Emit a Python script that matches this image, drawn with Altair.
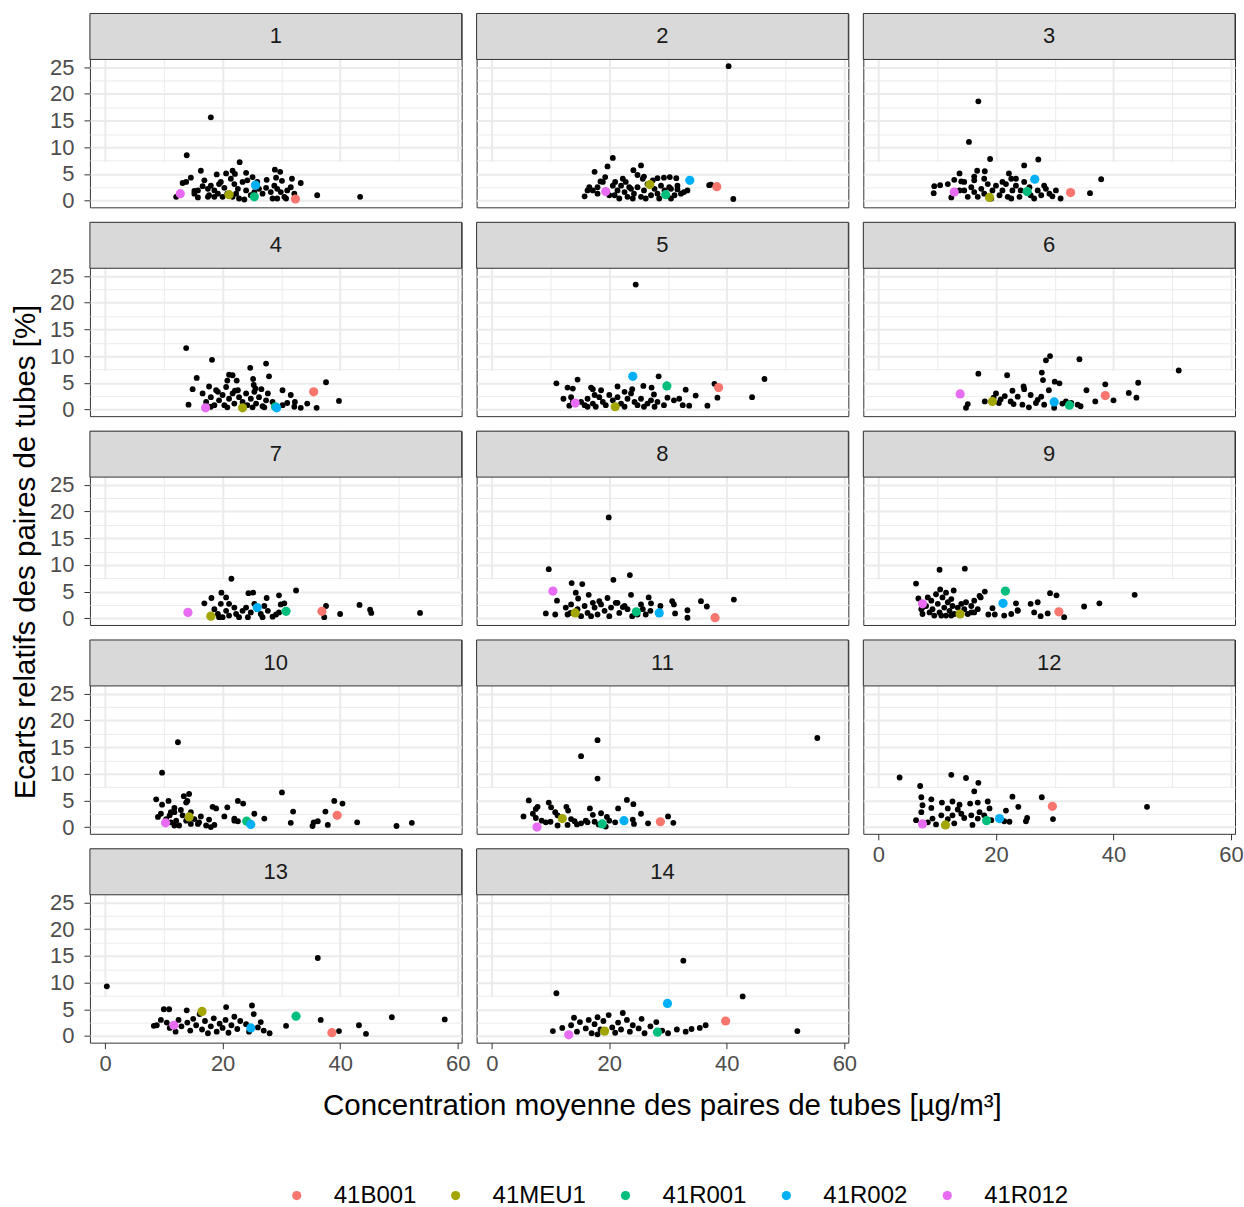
import altair as alt
import pandas as pd

# (concentration moyenne, écart relatif) of every tube pair, one list per campaign
CAMPAIGN_1 = [
    (18.0, 15.6), (13.9, 8.5), (22.9, 7.2), (16.3, 5.6), (28.9, 5.8), (29.8, 5.4), (19.0, 4.9), (20.6, 5.1),
    (21.7, 5.6), (22.1, 5.0), (24.0, 5.2), (14.6, 4.3), (13.8, 3.5), (13.2, 3.3), (25.1, 4.4), (27.5, 3.9),
    (29.1, 4.3), (30.1, 3.7), (31.8, 4.1), (33.3, 3.3), (36.1, 1.0), (43.4, 0.7), (15.2, 1.8), (15.8, 0.6),
    (16.6, 2.7), (17.5, 2.2), (17.7, 1.0), (18.6, 0.7), (19.4, 3.1), (19.7, 3.5), (20.3, 2.4), (20.0, 0.7),
    (22.0, 3.1), (22.6, 2.2), (23.4, 3.5), (24.0, 1.9), (24.2, 3.8), (22.8, 0.4), (23.7, 0.2), (26.2, 2.2),
    (26.8, 1.3), (27.4, 2.4), (28.2, 1.6), (28.8, 2.8), (29.3, 2.2), (29.9, 1.6), (30.5, 0.7), (31.0, 1.9),
    (31.6, 2.5), (29.3, 0.4), (30.8, 0.4), (32.2, 1.3), (18.6, 1.9), (17.5, 0.7), (15.8, 1.9), (15.2, 1.3),
    (12.1, 0.7), (16.9, 3.8), (21.4, 4.1), (20.8, 1.3), (24.8, 1.0), (25.9, 3.5), (19.2, 1.3), (21.7, 0.7),
    (22.3, 1.3), (25.4, 1.6), (28.5, 0.4), (18.0, 2.8),
]
CAMPAIGN_2 = [
    (40.3, 25.2), (41.1, 0.3), (20.6, 8.0), (19.7, 6.4), (25.4, 6.6), (17.5, 5.4), (24.1, 5.7), (24.8, 4.8),
    (25.9, 4.5), (19.3, 4.4), (18.5, 3.6), (21.0, 3.5), (28.2, 4.2), (29.3, 4.3), (30.3, 4.4), (31.4, 4.2),
    (37.3, 3.0), (37.0, 2.9), (16.6, 2.5), (16.3, 1.9), (15.8, 0.8), (30.5, 2.2), (31.6, 2.1), (32.7, 1.6),
    (33.3, 1.9), (20.9, 1.0), (21.4, 1.9), (22.0, 2.8), (22.6, 1.6), (22.8, 3.5), (23.1, 0.7), (23.7, 2.2),
    (24.2, 1.3), (24.8, 2.5), (25.4, 0.7), (25.9, 1.9), (26.5, 3.1), (27.1, 1.0), (27.7, 2.2), (28.2, 1.3),
    (28.8, 2.8), (29.4, 1.9), (30.2, 2.5), (31.1, 1.0), (32.2, 1.3), (21.7, 0.4), (24.0, 0.4), (26.2, 0.4),
    (28.5, 0.4), (17.2, 1.9), (18.0, 2.5), (18.9, 3.5), (20.6, 2.8), (22.3, 4.1), (23.4, 2.5), (25.7, 4.1),
    (27.4, 3.8), (31.6, 2.8), (18.0, 1.3), (20.0, 1.0), (30.5, 0.4),
]
CAMPAIGN_3 = [
    (17.0, 18.6), (15.4, 11.0), (19.0, 7.8), (24.8, 6.6), (27.2, 7.7), (37.9, 4.0), (36.0, 1.4), (13.8, 5.1),
    (16.8, 5.6), (18.1, 5.5), (16.3, 4.5), (22.2, 5.1), (9.5, 2.7), (10.5, 2.9), (11.8, 3.1), (9.4, 1.4),
    (12.9, 3.9), (14.1, 3.6), (12.4, 0.6), (28.2, 2.8), (28.5, 2.2), (30.2, 1.9), (31.0, 0.4), (26.5, 0.4),
    (14.6, 1.9), (15.2, 0.7), (15.8, 2.5), (16.3, 1.6), (16.9, 0.7), (17.5, 2.2), (18.0, 1.3), (18.6, 3.1),
    (19.4, 1.9), (20.0, 2.8), (20.6, 1.0), (21.1, 1.9), (21.7, 3.1), (22.0, 0.7), (22.6, 4.1), (22.8, 1.9),
    (23.4, 2.8), (24.0, 0.7), (24.2, 1.9), (24.8, 3.5), (25.7, 2.5), (25.9, 1.0), (27.1, 1.9), (27.7, 1.0),
    (29.1, 1.3), (29.6, 0.8), (14.6, 3.5), (16.3, 3.8), (21.1, 3.5), (23.4, 4.1), (13.8, 1.9), (19.2, 0.4),
    (22.6, 0.4), (18.0, 4.1),
]
CAMPAIGN_4 = [
    (13.8, 11.5), (18.2, 9.3), (24.7, 7.8), (27.4, 8.6), (27.9, 6.2), (15.6, 5.9), (37.6, 5.1), (39.8, 1.6),
    (14.9, 3.8), (14.2, 0.9), (16.6, 3.0), (17.7, 4.3), (18.9, 3.6), (21.1, 6.5), (21.7, 6.4), (20.8, 5.4),
    (22.4, 5.4), (25.2, 5.7), (25.3, 4.6), (20.6, 4.2), (22.1, 3.5), (26.6, 3.8), (30.2, 3.6), (31.6, 2.7),
    (32.3, 1.4), (33.3, 0.3), (34.4, 1.1), (36.0, 0.3), (17.2, 1.4), (18.0, 2.3), (18.6, 0.8), (19.4, 1.7),
    (20.0, 2.7), (20.3, 0.8), (21.1, 2.0), (21.7, 3.0), (22.0, 1.1), (22.8, 2.3), (23.4, 1.4), (24.0, 3.0),
    (24.2, 0.8), (24.8, 2.0), (25.4, 3.3), (25.7, 1.1), (26.2, 2.3), (26.8, 0.6), (27.4, 1.7), (27.7, 3.0),
    (28.5, 1.4), (30.2, 0.8), (31.0, 1.2), (19.2, 3.3), (22.6, 3.6), (25.6, 3.9), (18.0, 0.5), (20.8, 0.4),
    (25.1, 0.4), (27.1, 0.4), (32.2, 0.5),
]
CAMPAIGN_5 = [
    (24.5, 23.4), (28.4, 6.2), (11.0, 4.9), (14.6, 5.6), (46.4, 5.7), (44.3, 2.3), (38.4, 2.2), (37.9, 4.8),
    (36.7, 0.7), (34.7, 2.6), (33.0, 3.7), (25.8, 4.4), (27.2, 4.1), (27.6, 2.8), (12.9, 4.1), (13.8, 3.9),
    (16.9, 4.1), (17.2, 3.8), (18.6, 3.6), (21.4, 4.3), (23.9, 3.8), (12.2, 2.0), (13.5, 2.3), (13.2, 0.7),
    (29.9, 2.2), (31.9, 2.0), (32.5, 0.8), (33.6, 0.7), (15.2, 1.4), (15.8, 0.8), (16.3, 2.0), (17.2, 1.1),
    (17.7, 0.5), (18.3, 2.3), (18.9, 1.4), (19.4, 0.8), (20.0, 2.7), (20.6, 1.7), (21.4, 2.3), (22.0, 1.1),
    (22.6, 0.5), (23.1, 2.0), (23.7, 3.0), (24.3, 1.4), (24.8, 0.8), (25.4, 2.0), (25.9, 0.5), (26.5, 1.1),
    (27.1, 1.7), (27.7, 0.5), (28.2, 1.4), (29.3, 0.8), (16.3, 0.5), (17.5, 2.7), (22.6, 3.3), (20.9, 0.5),
    (31.0, 1.7), (13.8, 1.4),
]
CAMPAIGN_6 = [
    (29.2, 10.0), (28.5, 9.2), (34.2, 9.4), (17.0, 6.7), (21.9, 6.4), (27.8, 6.9), (28.0, 5.5), (51.1, 7.3),
    (30.0, 5.2), (30.8, 4.9), (24.7, 4.3), (24.8, 3.8), (38.6, 4.7), (44.2, 5.0), (35.4, 3.6), (29.0, 3.6),
    (42.6, 3.1), (43.9, 2.2), (40.0, 1.7), (36.9, 1.5), (22.8, 3.5), (23.7, 2.4), (25.9, 2.7), (27.1, 1.8),
    (27.7, 2.4), (20.0, 3.0), (20.8, 1.9), (22.5, 1.5), (24.5, 0.9), (25.6, 0.4), (26.8, 1.2), (18.1, 1.5),
    (15.2, 1.0), (14.9, 0.3), (28.2, 0.9), (29.9, 0.3), (31.9, 1.5), (33.9, 0.9), (34.4, 0.6), (21.5, 2.5),
    (20.5, 1.2), (23.0, 1.0), (19.6, 2.2), (31.3, 1.1), (32.8, 1.2),
]
CAMPAIGN_7 = [
    (21.5, 7.4), (32.5, 5.2), (24.4, 4.7), (25.2, 4.8), (19.8, 4.8), (20.6, 3.9), (18.1, 3.8), (16.9, 2.8),
    (27.5, 3.8), (29.6, 4.3), (29.9, 2.6), (30.5, 2.8), (37.6, 2.3), (37.3, 0.2), (40.0, 0.8), (43.3, 2.5),
    (45.1, 1.6), (45.3, 1.0), (53.6, 1.0), (18.6, 1.7), (19.2, 0.8), (19.7, 2.7), (20.0, 0.2), (20.6, 1.4),
    (21.1, 0.5), (22.0, 2.0), (22.3, 0.8), (22.8, 0.2), (23.4, 1.4), (24.0, 2.0), (24.3, 0.2), (24.8, 1.1),
    (25.4, 2.7), (26.5, 0.8), (26.8, 0.2), (27.1, 2.3), (27.7, 1.4), (28.5, 0.3), (29.1, 0.7), (29.6, 1.1),
    (19.4, 0.2), (21.1, 2.7), (25.9, 1.7),
]
CAMPAIGN_8 = [
    (19.9, 18.9), (9.7, 9.2), (23.5, 8.1), (20.7, 7.2), (13.6, 6.6), (15.4, 6.4), (11.1, 3.3), (14.3, 4.8),
    (16.5, 4.4), (14.7, 3.7), (23.7, 4.4), (26.7, 3.9), (27.1, 2.8), (27.0, 1.4), (28.7, 2.3), (30.7, 3.2),
    (31.0, 2.6), (31.2, 0.9), (33.3, 1.5), (33.3, 0.1), (35.6, 3.2), (36.6, 2.2), (41.2, 3.5), (9.2, 0.9),
    (10.8, 0.7), (19.7, 3.8), (18.3, 3.2), (21.4, 2.9), (22.6, 2.3), (25.4, 2.6), (12.6, 2.0), (12.9, 0.7),
    (13.5, 2.6), (14.6, 1.7), (15.2, 0.4), (15.8, 2.3), (16.3, 1.0), (16.9, 0.4), (17.5, 2.0), (18.0, 0.7),
    (18.6, 2.6), (19.2, 1.4), (20.0, 0.4), (20.3, 2.0), (21.1, 2.9), (21.7, 1.0), (22.3, 2.1), (23.1, 1.7),
    (23.9, 0.4), (24.8, 0.7), (25.7, 1.7), (26.2, 0.7), (13.4, 1.0), (17.2, 2.9),
]
CAMPAIGN_9 = [
    (10.4, 9.1), (14.7, 9.3), (6.4, 6.5), (43.6, 4.4), (12.8, 5.2), (10.5, 5.4), (6.8, 3.7), (18.1, 5.0),
    (17.2, 4.2), (29.2, 4.7), (30.3, 4.3), (37.6, 2.8), (35.0, 2.2), (25.9, 2.7), (27.1, 3.0), (23.4, 2.8),
    (23.7, 1.5), (19.4, 1.9), (18.7, 0.7), (19.8, 0.7), (21.4, 0.5), (26.5, 1.1), (27.6, 0.4), (28.8, 0.9),
    (31.6, 0.2), (7.3, 1.7), (7.5, 0.8), (8.1, 2.3), (8.7, 1.1), (9.0, 3.3), (9.2, 1.7), (9.5, 0.5),
    (9.8, 4.5), (10.1, 2.7), (10.4, 1.1), (10.9, 3.9), (11.2, 2.0), (11.5, 0.5), (11.8, 3.0), (12.1, 1.4),
    (12.4, 3.6), (12.6, 2.3), (12.9, 0.8), (13.5, 2.0), (14.1, 2.7), (14.6, 1.7), (14.9, 3.0), (15.2, 0.8),
    (15.8, 2.3), (16.3, 3.3), (16.9, 1.7), (17.4, 3.9), (15.8, 1.1), (8.4, 3.9), (12.4, 0.5), (10.7, 0.5),
    (7.5, 2.0), (11.5, 4.8), (16.3, 1.1), (22.6, 0.8), (23.7, 1.4),
]
CAMPAIGN_10 = [
    (12.4, 15.9), (9.7, 10.2), (30.1, 6.5), (8.7, 5.2), (10.8, 4.9), (9.7, 4.2), (13.4, 5.8), (14.3, 6.2),
    (13.8, 4.6), (14.0, 4.9), (22.6, 4.9), (23.5, 4.4), (39.0, 4.9), (40.4, 4.4), (18.3, 3.8), (18.9, 3.5),
    (20.8, 3.7), (11.8, 3.6), (12.9, 3.2), (32.0, 2.9), (31.6, 0.8), (37.5, 2.9), (27.1, 1.6), (25.4, 2.5),
    (35.5, 0.9), (36.2, 1.1), (35.3, 0.2), (37.9, 0.4), (42.9, 0.9), (49.6, 0.2), (52.2, 0.8), (20.3, 2.0),
    (22.0, 1.6), (22.6, 1.1), (9.0, 1.9), (9.5, 2.5), (10.4, 1.5), (11.0, 2.2), (11.2, 0.9), (11.8, 2.8),
    (12.1, 1.2), (12.6, 0.3), (13.2, 2.2), (13.8, 1.2), (14.6, 2.8), (15.2, 1.5), (15.8, 0.6), (16.3, 2.0),
    (17.2, 0.3), (17.7, 1.4), (18.6, 0.4), (11.8, 0.3), (14.6, 0.6), (11.2, 2.8), (16.0, 0.9), (18.0, 0.0),
    (22.0, 1.2),
]
CAMPAIGN_11 = [
    (55.4, 16.7), (18.0, 16.3), (15.2, 13.3), (18.0, 9.1), (6.3, 5.0), (7.8, 3.8), (7.5, 3.4), (9.7, 4.6),
    (10.1, 3.7), (12.7, 3.8), (13.0, 3.1), (23.0, 5.1), (24.1, 4.3), (21.5, 3.5), (16.7, 3.5), (25.4, 2.5),
    (5.4, 2.0), (7.0, 2.5), (7.5, 1.7), (10.8, 2.8), (11.2, 2.2), (17.2, 2.3), (18.6, 2.6), (19.6, 1.9),
    (26.6, 0.7), (30.0, 2.0), (30.9, 0.8), (24.2, 0.6), (24.0, 1.4), (9.2, 0.9), (11.2, 0.3), (12.9, 0.4),
    (14.1, 1.1), (15.2, 0.7), (16.3, 0.9), (19.4, 0.1), (13.5, 1.5), (14.5, 0.5), (16.0, 1.2), (17.5, 1.0),
    (18.2, 0.5), (8.5, 1.2), (10.0, 1.0), (11.8, 1.8), (20.0, 1.2), (21.0, 0.9),
]
CAMPAIGN_12 = [
    (3.6, 9.3), (12.4, 9.8), (14.9, 9.2), (17.0, 8.3), (7.1, 7.7), (16.3, 6.7), (7.3, 5.6), (9.0, 5.2),
    (10.8, 4.6), (12.6, 4.8), (13.8, 4.2), (15.6, 4.4), (16.9, 4.6), (18.6, 4.8), (18.9, 3.5), (22.8, 5.7),
    (27.8, 5.6), (23.8, 3.8), (21.7, 3.1), (45.7, 3.8), (29.7, 1.5), (25.3, 1.7), (25.1, 1.1), (22.3, 1.0),
    (21.4, 1.1), (7.5, 4.1), (9.0, 3.6), (11.8, 3.5), (13.5, 3.3), (17.2, 2.8), (6.4, 1.3), (8.4, 0.9),
    (9.8, 0.5), (11.8, 1.5), (12.9, 0.7), (14.6, 1.7), (15.8, 2.2), (16.9, 1.6), (16.0, 0.4), (10.7, 2.2),
    (12.6, 2.2), (14.1, 2.5), (18.0, 2.2), (19.2, 1.3), (9.2, 1.6), (7.3, 2.8),
]
CAMPAIGN_13 = [
    (0.3, 9.3), (36.2, 14.6), (57.8, 3.1), (48.8, 3.5), (43.2, 2.0), (44.4, 0.4), (39.8, 0.9), (36.7, 3.0),
    (30.8, 1.9), (25.0, 5.7), (25.3, 4.1), (20.6, 5.4), (10.0, 5.0), (10.9, 5.0), (13.9, 4.8), (16.1, 4.1),
    (8.8, 2.0), (8.3, 1.9), (10.5, 2.5), (11.0, 1.5), (12.5, 3.0), (13.0, 1.8), (14.0, 2.5), (14.5, 1.0),
    (15.0, 3.2), (15.5, 2.0), (16.5, 1.2), (17.0, 2.8), (18.0, 1.8), (18.5, 3.3), (19.0, 0.8), (19.5, 2.3),
    (20.0, 1.5), (20.5, 3.0), (21.0, 0.6), (21.5, 2.0), (22.5, 1.3), (23.0, 2.8), (24.0, 2.2), (24.5, 0.8),
    (26.0, 1.6), (26.5, 2.6), (27.0, 1.0), (28.0, 0.5), (12.0, 0.8), (17.5, 0.5), (22.0, 3.6), (9.5, 3.0),
]
CAMPAIGN_14 = [
    (11.0, 8.0), (32.6, 14.1), (42.7, 7.4), (52.0, 0.9), (36.4, 2.0), (35.4, 1.5), (19.9, 3.9), (22.3, 4.3),
    (10.4, 0.9), (12.0, 1.5), (13.5, 2.0), (14.5, 0.8), (15.0, 2.6), (16.0, 1.4), (16.5, 3.0), (17.0, 0.5),
    (17.5, 2.2), (18.0, 3.5), (18.5, 1.2), (19.0, 2.8), (20.5, 1.6), (21.0, 0.6), (21.5, 2.5), (22.0, 1.2),
    (23.0, 3.0), (23.5, 0.8), (24.0, 2.0), (25.0, 1.4), (25.5, 3.2), (26.0, 0.5), (27.0, 1.8), (28.0, 2.6),
    (29.0, 1.0), (30.0, 0.5), (31.5, 1.2), (33.0, 0.8), (34.0, 1.3), (14.0, 3.4), (18.0, 0.3),
]
CAMPAIGNS = [
    CAMPAIGN_1, CAMPAIGN_2, CAMPAIGN_3, CAMPAIGN_4, CAMPAIGN_5, CAMPAIGN_6, CAMPAIGN_7,
    CAMPAIGN_8, CAMPAIGN_9, CAMPAIGN_10, CAMPAIGN_11, CAMPAIGN_12, CAMPAIGN_13, CAMPAIGN_14,
]

# Reference stations, one (x, y) per campaign 1..14
STATIONS = ["41B001", "41MEU1", "41R001", "41R002", "41R012"]
STATION_COLORS = ["#F8766D", "#A3A500", "#00BF7D", "#00B0F6", "#E76BF3"]
ST_41B001 = [(32.4, 0.3), (38.3, 2.6), (32.7, 1.5), (35.5, 3.3), (38.6, 4.1), (38.6, 2.6), (36.9, 1.3),
             (38.0, 0.1), (30.7, 1.2), (39.5, 2.2), (28.7, 1.0), (29.6, 3.9), (38.6, 0.6), (39.8, 2.8)]
ST_41MEU1 = [(21.1, 1.1), (26.9, 3.0), (18.9, 0.6), (23.4, 0.3), (21.0, 0.5), (19.4, 1.5), (18.0, 0.4),
             (14.2, 1.0), (13.9, 0.8), (14.3, 1.9), (12.0, 1.6), (11.4, 0.4), (16.5, 4.6), (19.2, 0.9)]
ST_41R001 = [(25.4, 0.7), (29.6, 1.1), (25.3, 1.7), (29.0, 0.5), (29.8, 4.4), (32.5, 0.8), (30.8, 1.3),
             (24.6, 1.2), (21.6, 5.1), (24.1, 1.1), (18.8, 0.6), (18.4, 1.2), (32.5, 3.7), (28.2, 0.7)]
ST_41R002 = [(25.6, 2.9), (33.7, 3.8), (26.6, 4.0), (29.2, 0.3), (24.0, 6.2), (29.9, 1.4), (25.9, 2.0),
             (28.5, 1.0), (21.2, 2.8), (24.8, 0.5), (22.5, 1.2), (20.6, 1.6), (24.8, 1.5), (29.9, 6.1)]
ST_41R012 = [(12.8, 1.3), (19.4, 1.7), (12.9, 1.6), (17.1, 0.3), (14.2, 1.2), (13.9, 2.9), (14.1, 1.1),
             (10.4, 5.1), (7.5, 2.7), (10.3, 0.8), (7.7, 0.0), (7.5, 0.6), (11.7, 2.0), (13.1, 0.2)]
STATION_SERIES = [ST_41B001, ST_41MEU1, ST_41R001, ST_41R002, ST_41R012]

X_TITLE = "Concentration moyenne des paires de tubes [µg/m³]"
Y_TITLE = "Ecarts relatifs des paires de tubes [%]"
X_GRID = [0, 10, 20, 30, 40, 50, 60]
Y_GRID = [0, 2.5, 5, 7.5, 10, 12.5, 15, 17.5, 20, 22.5, 25]

FONT = "Liberation Sans"
W, H, STRIP = 372, 194, 46

pairs = pd.DataFrame(
    [{"campagne": k, "x": x, "y": y} for k, pts in enumerate(CAMPAIGNS, start=1) for x, y in pts]
)
stations = pd.DataFrame(
    [{"campagne": k, "station": name, "x": x, "y": y}
     for name, pts in zip(STATIONS, STATION_SERIES)
     for k, (x, y) in enumerate(pts, start=1)]
)

# ggplot-like 5 % expansion of the data range
all_x = list(pairs["x"]) + list(stations["x"])
all_y = list(pairs["y"]) + list(stations["y"])
x_pad = 0.05 * (max(all_x) - min(all_x))
y_pad = 0.05 * (max(all_y) - min(all_y))
x_scale = alt.Scale(domain=[min(all_x) - x_pad, max(all_x) + x_pad], nice=False, zero=False)
# plotting area is the lower part of each cell, the strip sits on top
y_scale = alt.Scale(domain=[min(all_y) - y_pad, max(all_y) + y_pad], range=[H, STRIP], nice=False, zero=False)

major_x = "datum.value % 20 === 0"
major_y = "datum.value % 5 === 0"


def make_panel(k):
    col = (k - 1) % 3
    show_x = k >= 12
    show_y = col == 0
    x_axis = alt.Axis(
        values=X_GRID, title=None, domain=False, labelOverlap=False,
        labels=show_x, ticks=show_x, labelPadding=5,
        labelExpr=f"{major_x} ? datum.label : ''",
        tickOpacity={"condition": {"test": major_x, "value": 1}, "value": 0},
        gridWidth={"condition": {"test": major_x, "value": 2}, "value": 1},
    )
    y_axis = alt.Axis(
        values=Y_GRID, title=None, domain=False, labelOverlap=False,
        labels=show_y, ticks=show_y, labelPadding=10,
        labelExpr=f"{major_y} ? datum.label : ''",
        tickOpacity={"condition": {"test": major_y, "value": 1}, "value": 0},
        gridWidth={"condition": {"test": major_y, "value": 2}, "value": 1},
    )
    x_enc = alt.X("x:Q", scale=x_scale, axis=x_axis)
    y_enc = alt.Y("y:Q", scale=y_scale, axis=y_axis)
    black = alt.Chart(pairs[pairs["campagne"] == k]).mark_circle(
        size=34, opacity=1, color="black"
    ).encode(x=x_enc, y=y_enc)
    coloured = alt.Chart(stations[stations["campagne"] == k]).mark_circle(
        size=85, opacity=1
    ).encode(
        x=x_enc,
        y=y_enc,
        color=alt.Color(
            "station:N",
            scale=alt.Scale(domain=STATIONS, range=STATION_COLORS),
            legend=alt.Legend(
                title=None, orient="none", direction="horizontal",
                legendX=195, legendY=1171,
            ),
        ),
    )
    label = pd.DataFrame({"label": [str(k)]})
    strip = alt.Chart(label).mark_rect(
        fill="#D9D9D9", stroke="#333333", strokeWidth=1
    ).encode(x=alt.value(0), x2=alt.value(W), y=alt.value(0), y2=alt.value(STRIP))
    strip_text = alt.Chart(label).mark_text(
        font=FONT, fontSize=22, color="#1A1A1A"
    ).encode(x=alt.value(W / 2), y=alt.value(STRIP / 2), text="label:N")
    return alt.layer(black, coloured, strip, strip_text).properties(width=W, height=H)


grid = alt.concat(
    *[make_panel(k) for k in range(1, 15)], columns=3, spacing=15, bounds="flush"
).properties(
    title=alt.TitleParams(
        X_TITLE, orient="bottom", anchor="middle", font=FONT, fontSize=29.5,
        fontWeight="normal", color="black", offset=17, dx=16,
    )
)

chart = alt.vconcat(grid).properties(
    title=alt.TitleParams(
        Y_TITLE, orient="left", anchor="middle", font=FONT, fontSize=29.5,
        fontWeight="normal", color="black", offset=8, dx=58,
    ),
    padding={"left": 10, "top": 12, "right": 0, "bottom": 0},
).configure_view(
    stroke="#333333", strokeWidth=1
).configure_axis(
    labelFont=FONT, labelFontSize=22, labelColor="#4D4D4D",
    tickColor="#333333", tickSize=6, tickWidth=1,
    gridColor="#EBEBEB",
).configure_legend(
    labelFont=FONT, labelFontSize=24, labelColor="black",
    symbolType="circle", symbolSize=85, symbolStrokeWidth=0,
    labelOffset=25, columnPadding=27,
)

chart.save("out.html", embed_options={"renderer": "svg", "actions": False})
